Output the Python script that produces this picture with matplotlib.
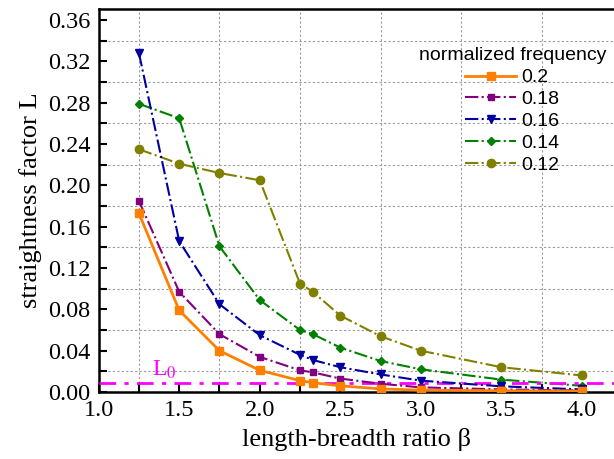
import matplotlib
matplotlib.use("Agg")
import matplotlib.pyplot as plt
from matplotlib.ticker import FixedLocator, FixedFormatter

beta = [1.25, 1.5, 1.75, 2.0, 2.25, 2.33, 2.5, 2.75, 3.0, 3.5, 4.0]
L_02 = [0.173, 0.079, 0.040, 0.021, 0.011, 0.009, 0.006, 0.003, 0.0018, 0.0012, 0.0008]
L_018 = [0.185, 0.097, 0.056, 0.034, 0.021, 0.019, 0.013, 0.008, 0.0045, 0.0025, 0.0015]
L_016 = [0.328, 0.146, 0.085, 0.055, 0.036, 0.031, 0.024, 0.017, 0.011, 0.0055, 0.0025]
L_014 = [0.279, 0.265, 0.141, 0.089, 0.060, 0.056, 0.043, 0.030, 0.022, 0.012, 0.006]
L_012 = [0.235, 0.221, 0.212, 0.205, 0.105, 0.097, 0.074, 0.054, 0.040, 0.024, 0.016]
L0_value = 0.009

series_labels = ["0.2", "0.18", "0.16", "0.14", "0.12"]
x_ticks = [1.0, 1.25, 1.5, 1.75, 2.0, 2.25, 2.5, 2.75, 3.0, 3.25, 3.5, 3.75, 4.0]
x_ticklabels = ["1.0", "", "1.5", "", "2.0", "", "2.5", "", "3.0", "", "3.5", "", "4.0"]
x_grid = [1.25, 1.75, 2.25, 2.75, 3.25, 3.75]
y_ticks = [round(0.02 * i, 2) for i in range(19)]
y_ticklabels = ["%.2f" % v if i % 2 == 0 else "" for i, v in enumerate(y_ticks)]
y_grid = [0.02, 0.06, 0.10, 0.14, 0.18, 0.22, 0.26, 0.30, 0.34]

plt.rcParams['mathtext.fontset'] = 'stix'
serif = ['Liberation Serif', 'DejaVu Serif']
sans = ['Liberation Sans', 'DejaVu Sans']

fig = plt.figure(figsize=(6.14, 4.59), dpi=100)
ax = fig.add_axes([98.7 / 614, 1 - 392 / 459, 1 - 98.7 / 614, (392 - 9) / 459])

ax.set_xlim(1.0, 4.2)
ax.set_ylim(0, 0.3708)

# grid
for g in x_grid:
    ax.axvline(g, color='#9a9a9a', lw=0.8, ls=(0, (2, 2)), zorder=0)
for g in y_grid:
    ax.axhline(g, color='#9a9a9a', lw=0.8, ls=(0, (2, 2)), zorder=0)

ax.plot(beta, L_02, color='#ff8000', lw=2.0, ls='-', marker='s', ms=6, label=series_labels[0], zorder=6)
ax.plot(beta, L_018, color='#800080', lw=1.5, ls='-.', marker='s', ms=4.5, label=series_labels[1], zorder=5)
ax.plot(beta, L_016, color='#0000a0', lw=1.5, ls='-.', marker='v', ms=6, label=series_labels[2], zorder=4)
ax.plot(beta, L_014, color='#008000', lw=1.5, ls='-.', marker='D', ms=4.5, label=series_labels[3], zorder=3)
ax.plot(beta, L_012, color='#808000', lw=1.5, ls='-.', marker='o', ms=6, label=series_labels[4], zorder=2)

ax.axhline(L0_value, color='#ff00ff', lw=2.0, ls=(0, (6, 3, 1.5, 3)), zorder=3)
ax.text(1.33, L0_value + 0.0015, 'L$_0$', color='#ff00ff', fontsize=17,
        family=serif, ha='left', va='bottom')

ax.xaxis.set_major_locator(FixedLocator(x_ticks))
ax.xaxis.set_major_formatter(FixedFormatter(x_ticklabels))
ax.yaxis.set_major_locator(FixedLocator(y_ticks))
ax.yaxis.set_major_formatter(FixedFormatter(y_ticklabels))
ax.tick_params(direction='in', length=6, width=1.5, labelsize=17.5, pad=6)
for lab in ax.get_xticklabels() + ax.get_yticklabels():
    lab.set_family(serif)

for s in ['left', 'bottom', 'top']:
    ax.spines[s].set_linewidth(1.8)
ax.spines['right'].set_visible(False)

ax.set_xlabel('length-breadth ratio β', fontsize=19, family=serif, labelpad=5)
ax.set_ylabel('straightness factor L', fontsize=19, family=serif, labelpad=4)

leg = ax.legend(title='normalized frequency', loc='upper right',
                bbox_to_anchor=(1.0, 0.92), frameon=False,
                prop={'family': sans, 'size': 14}, handlelength=2.6,
                handletextpad=0.3, labelspacing=0.22, borderaxespad=0)
leg.get_title().set_family(sans)
leg.get_title().set_fontsize(14)

fig.savefig('out.png', dpi=100)
